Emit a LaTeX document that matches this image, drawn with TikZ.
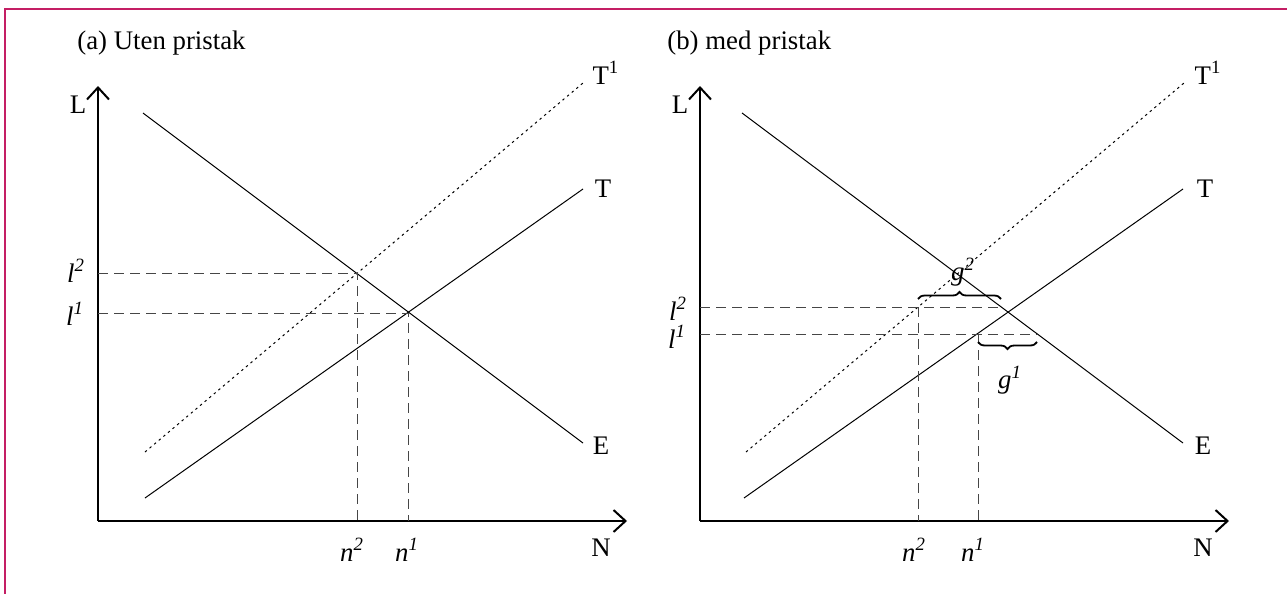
\documentclass[tikz,border=0pt]{standalone}
\usepackage{fontspec}
\setmainfont{Liberation Serif}
\usetikzlibrary{arrows.meta,decorations.pathreplacing}

\definecolor{framecol}{RGB}{196,30,100}
\definecolor{dashcol}{RGB}{70,70,70}

\newcommand{\varlab}[2]{\textit{#1}\textsuperscript{\itshape #2}}

\tikzset{
  axis/.style={line width=1pt,-{Straight Barb[length=6pt,width=11pt]}},
  curve/.style={line width=0.5pt},
  guide/.style={dashcol,line width=0.5pt,dash pattern=on 5pt off 3pt},
  shifted/.style={line width=0.5pt,dash pattern=on 1.2pt off 1.8pt},
  gap/.style={line width=0.9pt,decorate,decoration={brace,amplitude=3.5pt}},
  lab/.style={font=\fontsize{13.4}{15}\selectfont,inner sep=0pt},
}

\begin{document}
\begin{tikzpicture}[x=0.5pt,y=-0.5pt]

  % frame, open at bottom and right
  \useasboundingbox (0,0) rectangle (1287,594);
  \draw[framecol,line width=1.2pt] (5,594) -- (5,9) -- (1287,9);

  % ===== (a) without price ceiling =====
  \node[lab,anchor=west] (titlea) at (77,43) {(a) Uten pristak};

  % axes
  \draw[axis] (98,521) -- (98,86);
  \draw[axis] (98,521) -- (627,521);
  \node[lab] (La) at (78,105) {L};
  \node[lab] (Na) at (601,548) {N};

  % E, T and shifted T1
  \draw[curve] (143,113) -- (583,443);
  \node[lab] (Ea) at (601,446) {E};
  \draw[curve] (145,498) -- (583,189);
  \node[lab] (Ta) at (603,189) {T};
  \draw[shifted] (145,452) -- (583,83);
  \node[lab] (T1a) at (606,73) {T\textsuperscript{1}};

  % equilibrium guides
  \draw[guide] (98,273) -- (357,273) -- (357,521);
  \draw[guide] (98,313) -- (408,313) -- (408,521);
  \node[lab] (l2a) at (76,271) {\varlab{l}{2}};
  \node[lab] (l1a) at (75,314) {\varlab{l}{1}};
  \node[lab] (n2a) at (352,550) {\varlab{n}{2}};
  \node[lab] (n1a) at (407,550) {\varlab{n}{1}};

  % ===== (b) with price ceiling =====
  \node[lab,anchor=west] (titleb) at (667,43) {(b) med pristak};

  % axes
  \draw[axis] (700,521) -- (700,86);
  \draw[axis] (700,521) -- (1229,521);
  \node[lab] (Lb) at (680,105) {L};
  \node[lab] (Nb) at (1203,548) {N};

  % E, T and shifted T1
  \draw[curve] (742,113) -- (1183,443);
  \node[lab] (Eb) at (1203,446) {E};
  \draw[curve] (744,498) -- (1183,189);
  \node[lab] (Tb) at (1205,189) {T};
  \draw[shifted] (746,452) -- (1184,83);
  \node[lab] (T1b) at (1208,73) {T\textsuperscript{1}};

  % price levels and quantities
  \draw[guide] (700,307) -- (1001,307);
  \draw[guide] (918,307) -- (918,521);
  \draw[guide] (700,334) -- (1037,334);
  \draw[guide] (978,334) -- (978,521);
  \node[lab] (l2b) at (678,309) {\varlab{l}{2}};
  \node[lab] (l1b) at (677,337) {\varlab{l}{1}};
  \node[lab] (n2b) at (914,550) {\varlab{n}{2}};
  \node[lab] (n1b) at (973,550) {\varlab{n}{1}};

  % gaps
  \draw[gap] (918,299) -- (1001,299);
  \node[lab] (g2) at (963,272) {\varlab{g}{2}};
  \draw[gap] (1037,342) -- (978,342);
  \node[lab] (g1) at (1010,380) {\varlab{g}{1}};

\end{tikzpicture}
\end{document}
